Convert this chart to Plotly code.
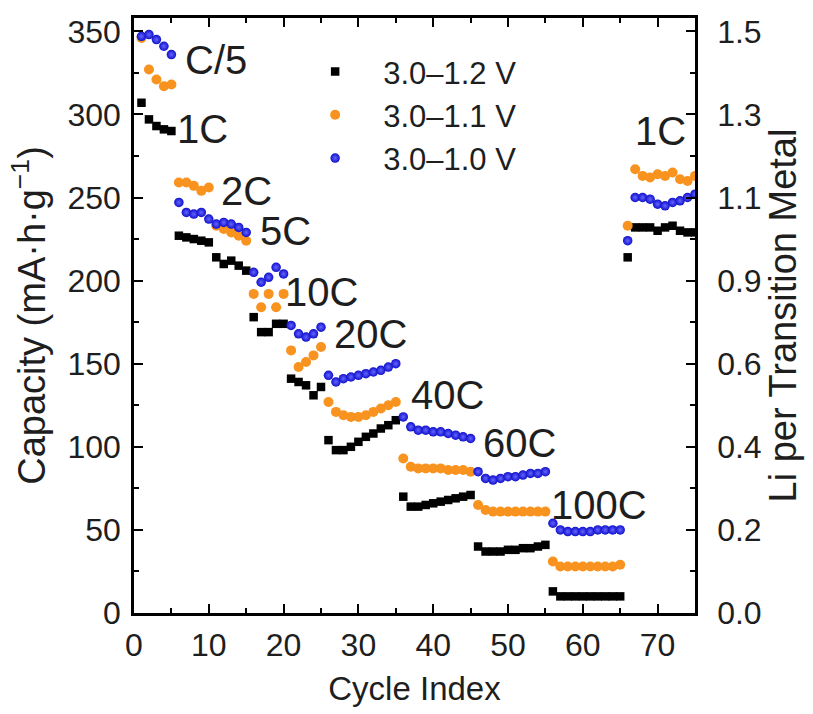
import plotly.graph_objects as go

# Cycle numbers and discharge capacities (mA·h/g) for three voltage windows
cycles = list(range(1, 76))

cap_12V = [307, 297, 293, 291, 290,
           227, 226, 225, 224, 223,
           214, 210, 212, 209, 206,
           178, 169, 169, 174, 174,
           141, 139, 137, 131, 136,
           104, 98, 98, 100, 103, 106, 108, 111, 113, 116,
           70, 64, 64, 65, 66, 67, 68, 69, 70, 71,
           40, 37, 37, 37, 38, 38, 39, 39, 40, 41,
           13, 10, 10, 10, 10, 10, 10, 10, 10, 10,
           214, 232, 232, 232, 230, 232, 233, 230, 229, 229]

cap_11V = [346, 327, 321, 317, 318,
           259, 259, 257, 254, 256,
           233, 231, 229, 227, 224,
           192, 184, 192, 184, 192,
           158, 148, 151, 155, 160,
           127, 121, 119, 118, 118, 119, 121, 123, 125, 127,
           93, 88, 87, 87, 87, 87, 86, 86, 86, 85,
           65, 62, 61, 61, 61, 61, 61, 61, 61, 61,
           31, 28, 28, 28, 28, 28, 28, 28, 28, 29,
           233, 267, 263, 262, 264, 263, 265, 261, 260, 263]

cap_10V = [347, 348, 345, 341, 336,
           247, 241, 240, 241, 237,
           234, 235, 234, 232, 229,
           205, 199, 202, 208, 204,
           173, 168, 166, 168, 172,
           143, 139, 141, 142, 143, 144, 145, 146, 148, 150,
           118, 112, 110, 110, 109, 109, 108, 107, 106, 105,
           85, 81, 80, 81, 82, 82, 83, 84, 84, 85,
           54, 50, 49, 49, 49, 49, 50, 50, 50, 50,
           224, 250, 250, 249, 246, 245, 247, 248, 250, 252]

series_names = ["3.0–1.2 V", "3.0–1.1 V", "3.0–1.0 V"]

# Left axis ticks and matching Li-per-transition-metal labels on the right
cap_ticks = [0, 50, 100, 150, 200, 250, 300, 350]
li_tick_labels = ["0.0", "0.2", "0.4", "0.6", "0.9", "1.1", "1.3", "1.5"]
x_ticks = [0, 10, 20, 30, 40, 50, 60, 70]

# C-rate labels and where they sit (cycle, capacity)
rate_labels = ["C/5", "1C", "2C", "5C", "10C", "20C", "40C", "60C", "100C", "1C"]
rate_label_pos = [(10.9, 333), (9.2, 291), (15.1, 254), (20.3, 230), (25.1, 193),
                  (31.6, 168), (41.9, 131), (51.5, 102), (62.1, 65), (70.4, 290)]

FONT = "Arial, Liberation Sans, sans-serif"
TEXT_C = "#1e1e1e"
BLACK_C = "#000000"
ORANGE_C = "#F7931E"
BLUE_C = "#1010cc"

fig = go.Figure()

fig.add_trace(go.Scatter(
    x=cycles, y=cap_12V, mode="markers", name=series_names[0], legendgroup="a",
    marker=dict(symbol="square", size=8.5, color=BLACK_C, line=dict(width=0)),
))
fig.add_trace(go.Scatter(
    x=cycles, y=cap_11V, mode="markers", name=series_names[1], legendgroup="b",
    marker=dict(symbol="circle", size=10, color=ORANGE_C, line=dict(width=0)),
))
fig.add_trace(go.Scatter(
    x=cycles, y=cap_10V, mode="markers", name=series_names[2], legendgroup="c",
    marker=dict(symbol="circle", size=9.5, color=BLUE_C, line=dict(width=0),
                gradient=dict(type="radial", color="#6464ff")),
))
# empty trace that brings the right-hand (Li per TM) axis into the figure
fig.add_trace(go.Scatter(x=[], y=[], yaxis="y2", showlegend=False, hoverinfo="skip"))

for txt, (cx, cy) in zip(rate_labels, rate_label_pos):
    fig.add_annotation(x=cx, y=cy, xref="x", yref="y", text=txt, showarrow=False,
                       font=dict(family=FONT, size=40, color=TEXT_C))

axis_common = dict(
    showgrid=False, zeroline=False, showline=True, linecolor="black", linewidth=2.5,
    ticks="inside", ticklen=9, tickwidth=2, tickcolor="black",
    tickfont=dict(family=FONT, size=32, color=TEXT_C),
)
minor_y = dict(dtick=25, tick0=0, ticks="inside", ticklen=5, tickwidth=2, tickcolor="black")

fig.update_layout(
    width=813, height=714,
    margin=dict(l=134, r=118, t=18, b=101),
    paper_bgcolor="white", plot_bgcolor="white",
    font=dict(family=FONT, color=TEXT_C),
    xaxis=dict(
        range=[0, 75], tickvals=x_ticks, mirror="ticks", ticklabelstandoff=2,
        minor=dict(dtick=5, tick0=0, ticks="inside", ticklen=5, tickwidth=2, tickcolor="black"),
        title=dict(text="Cycle Index", font=dict(family=FONT, size=33, color=TEXT_C), standoff=15),
        **axis_common,
    ),
    yaxis=dict(
        range=[0, 358], tickvals=cap_ticks, ticklabelstandoff=4, minor=minor_y,
        title=dict(text="Capacity (mA·h·g<sup>−1</sup>)", font=dict(family=FONT, size=38, color=TEXT_C), standoff=11),
        **axis_common,
    ),
    yaxis2=dict(
        range=[0, 358], overlaying="y", side="right", anchor="x",
        tickvals=cap_ticks, ticktext=li_tick_labels, ticklabelstandoff=13, minor=minor_y,
        title=dict(text="Li per Transition Metal", font=dict(family=FONT, size=38, color=TEXT_C), standoff=6),
        **axis_common,
    ),
    legend=dict(
        x=0.273, y=0.955, xanchor="left", yanchor="top",
        font=dict(family=FONT, size=31, color=TEXT_C),
        bgcolor="rgba(0,0,0,0)", tracegroupgap=0, itemwidth=86,
    ),
    showlegend=True,
)

fig.write_html("out.html")
